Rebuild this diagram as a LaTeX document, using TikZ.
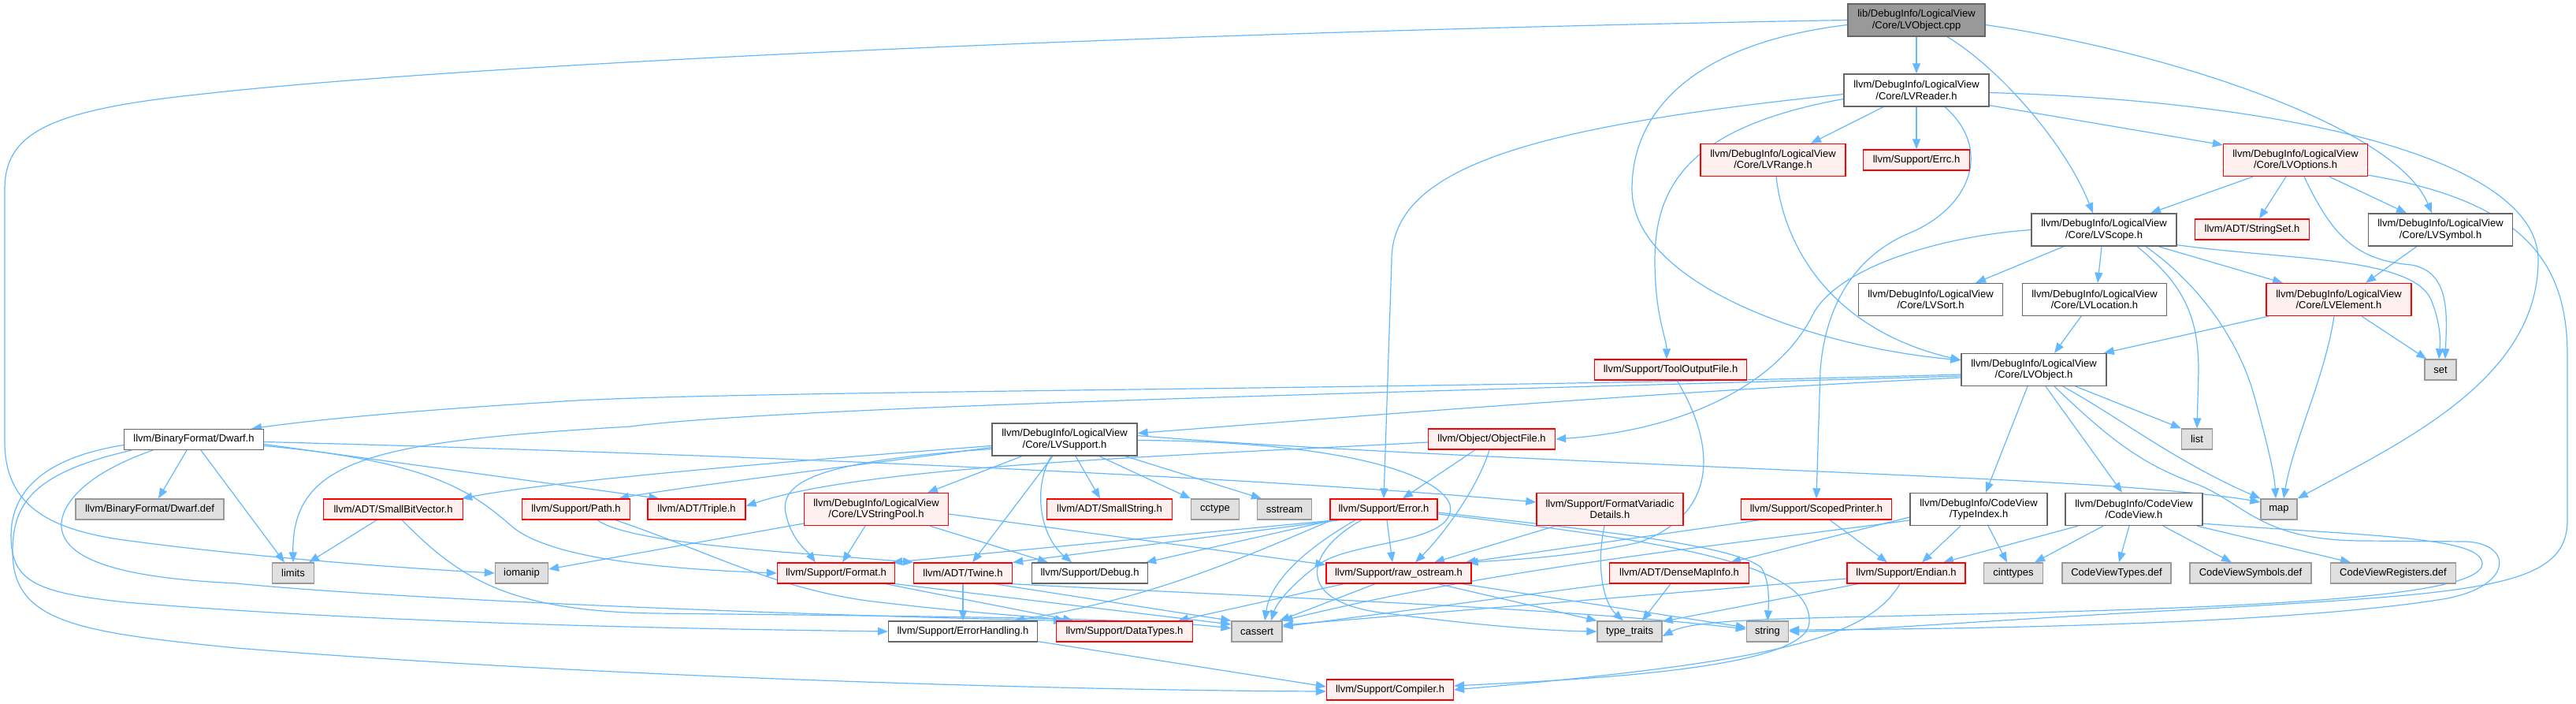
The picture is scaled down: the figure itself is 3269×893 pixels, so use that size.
\documentclass[tikz,border=0pt]{standalone}
\usepackage{fontspec}
\setmainfont{Liberation Sans}
\usetikzlibrary{arrows.meta,backgrounds}
\definecolor{edgeblue}{HTML}{63B8FF}
\definecolor{grayborder}{HTML}{999999}
\definecolor{darkborder}{HTML}{666666}
\definecolor{redfill}{HTML}{FFF0F0}
\definecolor{redborder}{HTML}{FF0000}
\definecolor{grayfill}{HTML}{E0E0E0}
\definecolor{rootfill}{HTML}{999999}
\begin{document}
\begin{tikzpicture}[x=1pt,y=-1pt,
  base/.style={draw, line width=1.3pt, inner sep=0pt, align=center, font=\fontsize{13pt}{14.5pt}\selectfont, minimum height=26pt},
  wnode/.style={base, draw=darkborder, fill=white},
  rnode/.style={base, draw=redborder, fill=redfill},
  gnode/.style={base, draw=grayborder, fill=grayfill},
  rootnode/.style={base, draw=darkborder, fill=rootfill},
  two/.style={minimum height=41pt},
  edge/.style={draw=edgeblue, line width=1.2pt, -{Triangle[length=13pt,width=10pt]}}
]
\useasboundingbox (0,0) rectangle (3269,893);

% ---------- nodes ----------
\node[rootnode, two, minimum width=174pt] (root) at (2432,25.5) {lib/DebugInfo/LogicalView\\/Core/LVObject.cpp};
\node[wnode, two, minimum width=184pt] (rd) at (2432,114.5) {llvm/DebugInfo/LogicalView\\/Core/LVReader.h};
\node[rnode, two, minimum width=184pt] (rg) at (2250,203) {llvm/DebugInfo/LogicalView\\/Core/LVRange.h};
\node[rnode, minimum width=135pt] (errc) at (2432,203) {llvm/Support/Errc.h};
\node[rnode, two, minimum width=183pt] (op) at (2913,203) {llvm/DebugInfo/LogicalView\\/Core/LVOptions.h};
\node[wnode, two, minimum width=184pt] (sc) at (2670,291.5) {llvm/DebugInfo/LogicalView\\/Core/LVScope.h};
\node[rnode, minimum width=145pt] (ss) at (2858,291) {llvm/ADT/StringSet.h};
\node[wnode, two, minimum width=183pt] (sy) at (3097,291.5) {llvm/DebugInfo/LogicalView\\/Core/LVSymbol.h};
\node[wnode, two, minimum width=183pt] (so) at (2450,380) {llvm/DebugInfo/LogicalView\\/Core/LVSort.h};
\node[wnode, two, minimum width=183pt] (lo) at (2658,380) {llvm/DebugInfo/LogicalView\\/Core/LVLocation.h};
\node[rnode, two, minimum width=184pt] (el) at (2968,380) {llvm/DebugInfo/LogicalView\\/Core/LVElement.h};
\node[rnode, minimum width=193pt] (tf) at (2120,469) {llvm/Support/ToolOutputFile.h};
\node[wnode, two, minimum width=184pt] (ob) at (2581,469) {llvm/DebugInfo/LogicalView\\/Core/LVObject.h};
\node[gnode, minimum width=40pt] (nset) at (3097,469) {set};
\node[wnode, minimum width=177pt] (dw) at (246,557.5) {llvm/BinaryFormat/Dwarf.h};
\node[wnode, two, minimum width=184pt] (su) at (1351,557.5) {llvm/DebugInfo/LogicalView\\/Core/LVSupport.h};
\node[rnode, minimum width=161pt] (of) at (1893,557) {llvm/Object/ObjectFile.h};
\node[gnode, minimum width=39pt] (nlist) at (2788,557) {list};
\node[gnode, minimum width=188pt] (dd) at (190,646) {llvm/BinaryFormat/Dwarf.def};
\node[rnode, minimum width=177pt] (sb) at (499,646) {llvm/ADT/SmallBitVector.h};
\node[rnode, minimum width=137pt] (pa) at (731,646) {llvm/Support/Path.h};
\node[rnode, minimum width=124pt] (tr) at (884,646) {llvm/ADT/Triple.h};
\node[rnode, two, minimum width=183pt] (sp2) at (1112,646) {llvm/DebugInfo/LogicalView\\/Core/LVStringPool.h};
\node[rnode, minimum width=159pt] (sm) at (1408,646) {llvm/ADT/SmallString.h};
\node[gnode, minimum width=61pt] (cc) at (1542,646) {cctype};
\node[gnode, minimum width=69pt] (sst) at (1630,646) {sstream};
\node[rnode, minimum width=136pt] (er) at (1756,646) {llvm/Support/Error.h};
\node[rnode, two, minimum width=186pt] (fv) at (2043,646) {llvm/Support/FormatVariadic\\Details.h};
\node[rnode, minimum width=191pt] (scp) at (2305,646) {llvm/Support/ScopedPrinter.h};
\node[wnode, two, minimum width=174pt] (ti) at (2511,646) {llvm/DebugInfo/CodeView\\/TypeIndex.h};
\node[wnode, two, minimum width=174pt] (cv) at (2708,646) {llvm/DebugInfo/CodeView\\/CodeView.h};
\node[gnode, minimum width=46pt] (nmap) at (2892,646) {map};
\node[gnode, minimum width=53pt] (lim) at (372,727) {limits};
\node[gnode, minimum width=67pt] (iom) at (662,727) {iomanip};
\node[rnode, minimum width=149pt] (fm) at (1061,727) {llvm/Support/Format.h};
\node[rnode, minimum width=125pt] (tw) at (1222,727) {llvm/ADT/Twine.h};
\node[wnode, minimum width=147pt] (db) at (1383,727) {llvm/Support/Debug.h};
\node[rnode, minimum width=184pt] (ro) at (1775,727) {llvm/Support/raw\_ostream.h};
\node[rnode, minimum width=177pt] (dmi) at (2131,727) {llvm/ADT/DenseMapInfo.h};
\node[rnode, minimum width=150pt] (en) at (2419,727) {llvm/Support/Endian.h};
\node[gnode, minimum width=75pt] (cit) at (2555,727) {cinttypes};
\node[gnode, minimum width=138pt] (cvt) at (2686,727) {CodeViewTypes.def};
\node[gnode, minimum width=154pt] (cvs) at (2856,727) {CodeViewSymbols.def};
\node[gnode, minimum width=159pt] (cvr) at (3037,727) {CodeViewRegisters.def};
\node[wnode, minimum width=189pt] (eh) at (1222,801) {llvm/Support/ErrorHandling.h};
\node[rnode, minimum width=173pt] (dt) at (1427,801) {llvm/Support/DataTypes.h};
\node[gnode, minimum width=64pt] (ca) at (1595,801) {cassert};
\node[gnode, minimum width=82pt] (tt) at (2068,801) {type\_traits};
\node[gnode, minimum width=53pt] (nstr) at (2243,801) {string};
\node[rnode, minimum width=161pt] (co) at (1764,875) {llvm/Support/Compiler.h};

% ---------- edges ----------
\begin{pgfonlayer}{background}
% root
\draw[edge] (root.south) -- (rd.north);
\draw[edge] ([xshift=39pt]root.south) .. controls (2535,85) and (2620,180) .. ([xshift=-14pt]sc.north);
\draw[edge] ([yshift=-6pt]root.east) .. controls (2750,65) and (3040,160) .. ([xshift=-11pt]sy.north);
\draw[edge] ([yshift=-6pt]root.west) .. controls (2150,55) and (2071,140) .. (2071,240) .. controls (2071,360) and (2300,440) .. ([yshift=-9pt]ob.north west);
\draw[edge] (root.west) .. controls (1500,40) and (600,80) .. (250,120) .. controls (60,140) and (6,170) .. (6,240) -- (6,560) .. controls (6,640) and (60,670) .. (150,684) .. controls (300,705) and (500,720) .. (iom.west);
% LVReader
\draw[edge] ([xshift=-42pt]rd.south) -- ([xshift=48pt]rg.north);
\draw[edge] (rd.south) -- (errc.north);
\draw[edge] ([yshift=2pt]rd.south east) -- ([yshift=-2pt]op.north west);
\draw[edge] ([yshift=-3pt]rd.east) .. controls (2900,128) and (3221,200) .. (3221,330) .. controls (3221,480) and (3050,560) .. (nmap.north east);
\draw[edge] ([yshift=-5pt]rd.west) .. controls (1950,160) and (1766,210) .. (1766,330) -- (er.north);
\draw[edge] ([yshift=-11pt]rd.west) .. controls (2150,160) and (2100,230) .. (2100,330) .. controls (2100,400) and (2115,430) .. ([xshift=-5pt]tf.north);
\draw[edge] ([xshift=36pt]rd.south) .. controls (2530,190) and (2500,265) .. (2420,297) .. controls (2345,330) and (2315,400) .. (2310,470) -- (scp.north);
% LVOptions
\draw[edge] ([xshift=-54pt]op.south) -- ([xshift=59pt]sc.north);
\draw[edge] ([xshift=-12pt]op.south) -- ([xshift=9pt]ss.north);
\draw[edge] ([xshift=43pt]op.south) -- ([xshift=-43pt]sy.north);
\draw[edge] ([xshift=11pt]op.south) .. controls (2960,300) and (2990,330) .. (3060,336) .. controls (3110,345) and (3105,400) .. ([xshift=6pt]nset.north);
\draw[edge] ([yshift=2pt]op.south east) .. controls (3200,255) and (3258,330) .. (3258,450) -- (3258,660) .. controls (3258,745) and (3150,752) .. (2800,772) .. controls (2500,788) and (2350,801) .. (nstr.east);
% LVScope
\draw[edge] ([xshift=-51pt]sc.south) -- ([xshift=57pt]so.north);
\draw[edge] ([xshift=-3pt]sc.south) -- ([xshift=4pt]lo.north);
\draw[edge] ([xshift=69pt]sc.south) -- ([xshift=-71pt]el.north);
\draw[edge] (sc.west) .. controls (2460,300) and (2330,340) .. (2300,400) .. controls (2260,480) and (2150,545) .. (of.east);
\draw[edge] ([xshift=42pt]sc.south) .. controls (2770,360) and (2790,400) .. (2790,470) -- (nlist.north);
\draw[edge] ([xshift=53pt]sc.south) .. controls (2790,360) and (2840,430) .. (2860,500) .. controls (2878,565) and (2886,600) .. ([xshift=-4pt]nmap.north);
\draw[edge] ([yshift=2pt]sc.south east) .. controls (2900,330) and (3060,325) .. (3085,380) .. controls (3097,410) and (3097,430) .. ([xshift=-2pt]nset.north);
% LVSymbol, LVRange, LVLocation, LVElement
\draw[edge] ([xshift=-30pt]sy.south) -- ([xshift=34pt]el.north);
\draw[edge] ([xshift=4pt]rg.south) .. controls (2265,320) and (2330,420) .. ([yshift=-9pt]ob.north west);
\draw[edge] ([xshift=-17pt]lo.south) -- ([xshift=26pt]ob.north);
\draw[edge] ([xshift=-89pt]el.south) -- ([xshift=-4pt]ob.north east);
\draw[edge] ([xshift=29pt]el.south) -- ([xshift=3pt]nset.north west);
\draw[edge] ([xshift=-6pt]el.south) .. controls (2950,480) and (2910,560) .. ([xshift=6pt]nmap.north);
% LVObject
\draw[edge] ([yshift=-6pt]ob.west) .. controls (1800,495) and (900,495) .. (700,510) .. controls (500,522) and (380,535) .. ([xshift=73pt]dw.north);
\draw[edge] ([yshift=-8pt]ob.west) .. controls (1800,497) and (1000,515) .. (800,541) .. controls (480,560) and (370,580) .. (lim.north);
\draw[edge] ([yshift=-10pt]ob.west) .. controls (2100,497) and (1700,530) .. ([yshift=8pt]su.east);
\draw[edge] ([xshift=53pt]ob.south) -- (nlist.north west);
\draw[edge] ([xshift=37pt]ob.south) .. controls (2690,530) and (2760,585) .. (nmap.north west);
\draw[edge] ([xshift=-8pt]ob.south) -- ([xshift=9pt]ti.north);
\draw[edge] ([xshift=15pt]ob.south) -- ([xshift=-15pt]cv.north);
\draw[edge] ([xshift=26pt]ob.south) .. controls (2680,560) and (2720,590) .. (2790,615) .. controls (2850,640) and (2870,686) .. (3000,686) -- (3130,687) .. controls (3190,690) and (3190,745) .. (3100,760) .. controls (2900,792) and (2500,798) .. ([yshift=2pt]nstr.east);
% ToolOutputFile, ObjectFile
\draw[edge] ([xshift=8pt]tf.south) .. controls (2175,560) and (2185,650) .. (2080,688) .. controls (2000,706) and (1920,710) .. ([xshift=-5pt]ro.north east);
\draw[edge] ([yshift=-4pt]of.west) .. controls (1500,578) and (1100,590) .. ([yshift=4pt]tr.east);
\draw[edge] ([xshift=-21pt]of.south) -- ([xshift=24pt]er.north);
\draw[edge] ([xshift=-3pt]of.south) .. controls (1875,620) and (1830,680) .. ([xshift=21pt]ro.north);
% Error
\draw[edge] ([xshift=-56pt]er.south) -- (tw.north east);
\draw[edge] ([xshift=-60pt]er.south) -- ([xshift=-4pt]fm.north east);
\draw[edge] ([xshift=-64pt]er.south) -- ([xshift=-3pt]db.north east);
\draw[edge] ([xshift=-66pt]er.south) .. controls (1550,720) and (1450,760) .. ([xshift=-30pt]eh.north east);
\draw[edge] ([xshift=4pt]er.south) -- ([xshift=-8pt]ro.north);
\draw[edge] ([xshift=-36pt]er.south) .. controls (1650,700) and (1612,740) .. ([xshift=10pt]ca.north);
\draw[edge] ([xshift=-28pt]er.south) .. controls (1655,700) and (1640,765) .. (1760,778) .. controls (1850,790) and (1950,800) .. (tt.west);
\draw[edge] ([yshift=-4pt]er.east) .. controls (2000,670) and (2200,690) .. (2235,720) .. controls (2245,735) and (2245,760) .. (nstr.north);
\draw[edge] ([yshift=-6pt]er.east) .. controls (2150,690) and (2300,720) .. (2296,790) .. controls (2292,850) and (2000,862) .. ([yshift=5pt]co.east);
% FormatVariadicDetails, ScopedPrinter
\draw[edge] ([xshift=-69pt]fv.south) -- ([xshift=45pt]ro.north);
\draw[edge] ([xshift=-7pt]fv.south) .. controls (2025,720) and (2035,765) .. ([xshift=-8pt]tt.north);
\draw[edge] ([xshift=-72pt]scp.south) -- ([xshift=-8pt]ro.north east);
\draw[edge] ([xshift=17pt]scp.south) -- ([xshift=-24pt]en.north);
% TypeIndex
\draw[edge] ([xshift=-23pt]ti.south) -- ([xshift=20pt]en.north);
\draw[edge] ([xshift=12pt]ti.south) -- ([xshift=-8pt]cit.north);
\draw[edge] ([yshift=-10pt]ti.west) -- ([xshift=65pt]dmi.north);
\draw[edge] ([yshift=-14pt]ti.west) .. controls (2200,690) and (1900,720) .. (ca.north east);
% Endian
\draw[edge] ([xshift=-8pt]en.south) .. controls (2370,810) and (2250,840) .. (co.east);
\draw[edge] ([xshift=-61pt]en.south) -- ([yshift=-1pt]tt.north east);
\draw[edge] ([yshift=-7pt]en.west) -- ([yshift=8pt]ca.east);
% CodeView
\draw[edge] ([xshift=-71pt]cv.south) -- ([xshift=47pt]en.north);
\draw[edge] ([xshift=-39pt]cv.south) -- ([xshift=27pt]cit.north);
\draw[edge] ([xshift=-6pt]cv.south) -- ([xshift=3pt]cvt.north);
\draw[edge] ([xshift=37pt]cv.south) -- ([xshift=-24pt]cvs.north);
\draw[edge] ([xshift=80pt]cv.south) -- ([xshift=-54pt]cvr.north);
\draw[edge] ([yshift=3pt]cv.south east) .. controls (3000,680) and (3150,680) .. (3150,715) .. controls (3150,762) and (2800,772) .. (2420,781) .. controls (2250,785) and (2150,786) .. ([yshift=-6pt]tt.east);
% DenseMapInfo
\draw[edge] (dmi.south west) -- ([yshift=6pt]ca.east);
\draw[edge] ([xshift=-11pt]dmi.south) -- ([xshift=16pt]tt.north);
% raw_ostream
\draw[edge] ([xshift=-70pt]ro.south) -- ([xshift=68pt]dt.north);
\draw[edge] ([xshift=-30pt]ro.south) -- ([xshift=-4pt]ca.north east);
\draw[edge] ([xshift=50pt]ro.south) -- (tt.north west);
\draw[edge] ([xshift=80pt]ro.south) -- ([yshift=5pt]nstr.west);
% Twine
\draw[edge] (tw.south) -- (eh.north);
\draw[edge] ([xshift=40pt]tw.south) -- (ca.north west);
\draw[edge] ([xshift=-2pt]tw.south east) .. controls (1600,757) and (2000,772) .. ([yshift=3pt]nstr.west);
% Format
\draw[edge] ([xshift=63pt]fm.south) -- ([xshift=-65pt]dt.north);
\draw[edge] (fm.south east) -- ([yshift=9pt]ca.west);
% Path
\draw[edge] ([xshift=27pt]pa.south) .. controls (800,690) and (1000,700) .. (tw.north west);
\draw[edge] ([xshift=50pt]pa.south) .. controls (900,700) and (980,745) .. (1100,762) .. controls (1250,780) and (1320,782) .. ([xshift=12pt]dt.north west);
% LVStringPool
\draw[edge] ([xshift=-14pt]sp2.south) -- ([xshift=8pt]fm.north);
\draw[edge] ([xshift=68pt]sp2.south) -- ([xshift=21pt]db.north west);
\draw[edge] ([yshift=-6pt]sp2.east) -- ([yshift=-3pt]ro.north west);
\draw[edge] ([yshift=-18pt]sp2.west) -- ([yshift=5pt]iom.east);
% SmallBitVector
\draw[edge] ([xshift=-21pt]sb.south) -- ([xshift=20pt]lim.north);
\draw[edge] ([xshift=11pt]sb.south) .. controls (580,730) and (640,775) .. (830,778) .. controls (1200,782) and (1450,784) .. ([yshift=4pt]ca.west);
% Dwarf
\draw[edge] ([xshift=-9pt]dw.south) -- ([xshift=11pt]dd.north);
\draw[edge] ([xshift=9pt]dw.south) -- ([xshift=-11pt]lim.north);
\draw[edge] ([yshift=-3pt]dw.east) .. controls (900,575) and (1600,605) .. ([yshift=9pt]fv.west);
\draw[edge] ([yshift=-6pt]dw.east) -- ([xshift=15pt]tr.north west);
\draw[edge] ([yshift=-8pt]dw.east) .. controls (550,585) and (600,625) .. (650,668) .. controls (700,710) and (850,722) .. (fm.west);
\draw[edge] ([yshift=-7pt]dw.west) .. controls (60,580) and (14,620) .. (14,680) .. controls (14,740) and (50,752) .. (160,764) .. controls (500,792) and (900,798) .. (eh.west);
\draw[edge] ([xshift=-79pt]dw.south) .. controls (40,600) and (16,640) .. (16,700) .. controls (16,790) and (100,802) .. (300,822) .. controls (800,862) and (1400,876) .. ([yshift=-2pt]co.west);
\draw[edge] ([xshift=-52pt]dw.south) .. controls (110,600) and (75,640) .. (78,670) .. controls (85,722) and (200,735) .. (300,740) .. controls (500,760) and (1000,780) .. ([xshift=10pt]dt.north west);
% LVSupport
\draw[edge] ([yshift=-8pt]su.west) .. controls (1000,585) and (700,610) .. ([xshift=-2pt]sb.north east);
\draw[edge] ([yshift=-10pt]su.west) .. controls (1050,595) and (850,620) .. ([xshift=-15pt]pa.north east);
\draw[edge] ([yshift=-12pt]su.west) .. controls (1040,585) and (985,610) .. (998,655) .. controls (1005,685) and (1025,700) .. ([xshift=-26pt]fm.north);
\draw[edge] ([xshift=-54pt]su.south) -- ([xshift=65pt]sp2.north);
\draw[edge] ([xshift=-15pt]su.south) -- ([xshift=12pt]tw.north);
\draw[edge] ([xshift=-17pt]su.south) .. controls (1310,620) and (1320,680) .. ([xshift=-23pt]db.north);
\draw[edge] ([xshift=14pt]su.south) -- ([xshift=-12pt]sm.north);
\draw[edge] ([xshift=44pt]su.south) -- (cc.north west);
\draw[edge] ([xshift=77pt]su.south) -- ([xshift=6pt]sst.north west);
\draw[edge] ([yshift=5pt]su.east) .. controls (1700,575) and (2400,600) .. (2600,612) .. controls (2750,620) and (2830,630) .. ([yshift=9pt]nmap.west);
\draw[edge] ([yshift=-1pt]su.east) .. controls (1700,560) and (1825,600) .. (1840,640) .. controls (1850,690) and (1720,685) .. (1675,715) .. controls (1640,740) and (1620,765) .. ([xshift=18pt]ca.north);
% ErrorHandling
\draw[edge] ([yshift=1pt]eh.south east) -- ([yshift=4pt]co.west);
\end{pgfonlayer}
\end{tikzpicture}
\end{document}
